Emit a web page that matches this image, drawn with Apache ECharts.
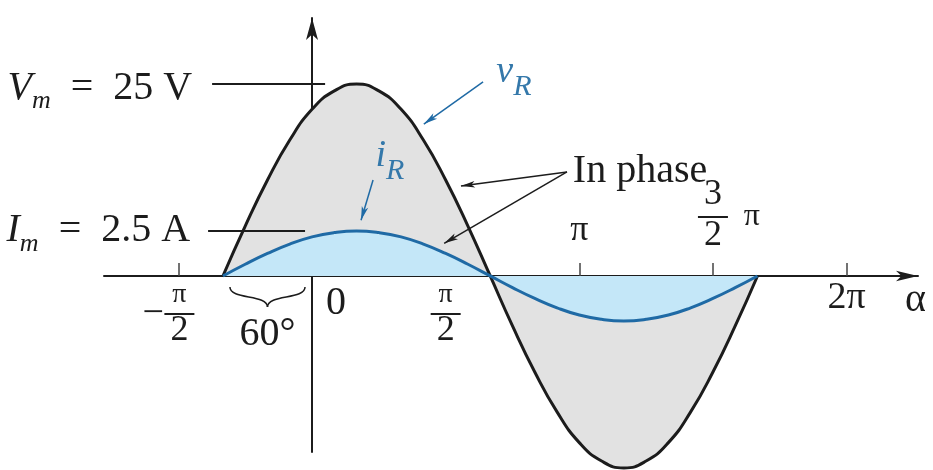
<!DOCTYPE html>
<html>
<head>
<meta charset="utf-8">
<script src="https://cdn.jsdelivr.net/npm/echarts@6/dist/echarts.min.js"></script>
<style>
  html, body { margin: 0; padding: 0; background: #fff; }
  #main { width: 933px; height: 470px; }
</style>
</head>
<body>
<div id="main"></div>
<script>
// angle alpha in degrees, values every 15 deg
var angles = [-60, -45, -30, -15, 0, 15, 30, 45, 60, 75, 90, 105, 120, 135, 150, 165, 180, 195, 210, 225, 240, 255, 270, 285, 300];
var vR = [0, 6.5, 12.5, 17.7, 21.7, 24.1, 25, 24.1, 21.7, 17.7, 12.5, 6.5, 0, -6.5, -12.5, -17.7, -21.7, -24.1, -25, -24.1, -21.7, -17.7, -12.5, -6.5, 0];
var iR = [0, 0.65, 1.25, 1.77, 2.17, 2.41, 2.5, 2.41, 2.17, 1.77, 1.25, 0.65, 0, -0.65, -1.25, -1.77, -2.17, -2.41, -2.5, -2.41, -2.17, -1.77, -1.25, -0.65, 0];
var Vm = 25;
var Im = 2.5;
var phaseShift = 60;
// tick marks and labels (degrees)
var tickMarks = [-90, 90, 180, 270, 360];
var labelsBelow = [-90, 0, 90, 360];
var labelsAbove = [180, 270];

var chart = echarts.init(document.getElementById('main'));
var serif = 'Liberation Serif';
var ink = '#1c1c1c';
var blue = '#1f6aa5';
var blueText = '#3478aa';
// the alpha axis sits on v = 0; grid bottom is 176px below it
var axisLift = -176;

function T(o) {
  o.fontFamily = serif;
  if (!o.color) o.color = ink;
  return o;
}

var belowText = {
  '-90': '{s| }{n|π}{e| }\n{m|−}{b| }{e| }\n{s| }{d|2}{e| }',
  '0': '{z|0}',
  '90': '{n|π}\n{b| }\n{d|2}',
  '360': '{w|2π}'
};
var aboveText = {
  '180': '{p|π}',
  '270': '{g| }{t3|3}{g| }\n{g| }{b2| }{q|π}\n{g| }{t2|2}{g| }'
};

var belowRich = {
  n: T({ fontSize: 28, lineHeight: 34, width: 30, align: 'center' }),
  d: T({ fontSize: 36, lineHeight: 30, width: 30, align: 'center' }),
  b: { width: 30, height: 2, lineHeight: 4, backgroundColor: ink, fontSize: 1 },
  m: T({ fontSize: 38, lineHeight: 4, width: 22, align: 'left' }),
  s: T({ fontSize: 8, lineHeight: 1, width: 22 }),
  e: T({ fontSize: 8, lineHeight: 1, width: 20 }),
  z: T({ fontSize: 40, lineHeight: 50, padding: [0, 0, 0, 48] }),
  w: T({ fontSize: 38, lineHeight: 40 })
};
var aboveRich = {
  p: T({ fontSize: 36, lineHeight: 36 }),
  g: T({ fontSize: 8, lineHeight: 1, width: 32 }),
  t3: T({ fontSize: 36, lineHeight: 33, width: 30, align: 'center' }),
  t2: T({ fontSize: 36, lineHeight: 26, width: 30, align: 'center' }),
  b2: { width: 30, height: 2, lineHeight: 12, backgroundColor: ink, fontSize: 1 },
  q: T({ fontSize: 32, lineHeight: 12, width: 32, align: 'right' })
};
var subRich = {
  i: T({ fontSize: 40, lineHeight: 52, fontStyle: 'italic' }),
  s: T({ fontSize: 26, lineHeight: 52, fontStyle: 'italic', verticalAlign: 'bottom' }),
  t: T({ fontSize: 40, lineHeight: 52 })
};
var blueRich = {
  v: T({ fontSize: 38, lineHeight: 60, fontStyle: 'italic', color: blueText }),
  r: T({ fontSize: 30, lineHeight: 60, fontStyle: 'italic', color: blueText, verticalAlign: 'bottom' })
};

function arrowLine(from, to, color) {
  return [
    { coord: from, symbol: 'none', lineStyle: { color: color, width: 1.5, type: 'solid' }, itemStyle: { color: color }, label: { show: false } },
    { coord: to, symbol: 'arrow', symbolSize: [5, 14], itemStyle: { color: color } }
  ];
}

var option = {
  animation: false,
  backgroundColor: '#fff',
  grid: { left: 104, right: 15, top: 18, bottom: 18, outerBoundsMode: 'none' },
  xAxis: [{
    type: 'value', min: -140.1, max: 408.1, position: 'bottom', offset: axisLift,
    axisLine: { show: true, onZero: false, symbol: ['none', 'arrow'], symbolSize: [8, 22], lineStyle: { color: ink, width: 2 } },
    axisTick: { show: true, inside: true, length: 13, customValues: tickMarks, lineStyle: { color: '#444', width: 1.5 } },
    axisLabel: { show: true, margin: 2, customValues: labelsBelow, fontFamily: serif, color: ink,
      formatter: function (v) { return belowText[String(v)] || ''; }, rich: belowRich },
    splitLine: { show: false },
    name: 'α', nameLocation: 'end', nameGap: -13, nameMoveOverlap: false,
    nameTextStyle: { fontFamily: serif, fontSize: 40, lineHeight: 40, color: ink, verticalAlign: 'top', padding: [4, 0, 0, 0] }
  }, {
    type: 'value', min: -140.1, max: 408.1, position: 'bottom', offset: axisLift,
    axisLine: { show: false, onZero: false },
    axisTick: { show: false },
    axisLabel: { show: true, inside: true, margin: 27, customValues: labelsAbove, fontFamily: serif, color: ink,
      formatter: function (v) { return aboveText[String(v)] || ''; }, rich: aboveRich },
    splitLine: { show: false }
  }],
  yAxis: [{
    type: 'value', min: -22.92, max: 33.59,
    axisLine: { show: true, onZero: true, onZeroAxisIndex: 0, symbol: ['none', 'arrow'], symbolSize: [9, 22], lineStyle: { color: ink, width: 2 } },
    axisTick: { show: false }, axisLabel: { show: false }, splitLine: { show: false }
  }, {
    type: 'value', min: -9.78, max: 14.33, show: false, splitLine: { show: false }
  }],
  series: [{
    type: 'line', name: 'vR', xAxisIndex: 0, yAxisIndex: 0,
    data: angles.map(function (a, k) { return [a, vR[k]]; }),
    smooth: true, symbol: 'none', clip: false, z: 2,
    lineStyle: { color: ink, width: 3 },
    areaStyle: { color: '#e2e2e2', opacity: 1 },
    markLine: {
      silent: true, animation: false, symbol: ['none', 'none'], label: { show: false },
      data: [
        [{ coord: [-67.3, Vm], symbol: 'none', lineStyle: { color: ink, width: 2, type: 'solid' },
           label: { show: true, position: 'start', distance: 20, padding: [9, 0, 0, 0],
             formatter: '{i|V}{s|m}{t|  =  ' + Vm + ' V}', rich: subRich } },
         { coord: [8.8, Vm], symbol: 'none' }],
        arrowLine([115.2, 25.26], [75.3, 19.78], blue),
        arrowLine([171.7, 13.54], [100.3, 11.7], ink)
      ]
    },
    markPoint: {
      silent: true, animation: false, symbol: 'circle', symbolSize: 0, itemStyle: { color: 'transparent' },
      data: [
        { coord: [136, 26.6], label: { show: true, position: 'inside', formatter: '{v|v}{r|R}', rich: blueRich } },
        { coord: [220.9, 13.6], label: { show: true, position: 'inside', formatter: 'In phase',
          fontFamily: serif, fontSize: 40, lineHeight: 40, color: ink } }
      ]
    }
  }, {
    type: 'line', name: 'iR', xAxisIndex: 0, yAxisIndex: 1,
    data: angles.map(function (a, k) { return [a, iR[k]]; }),
    smooth: true, symbol: 'none', clip: false, z: 3,
    lineStyle: { color: blue, width: 3 },
    areaStyle: { color: '#c4e7f8', opacity: 1 },
    markLine: {
      silent: true, animation: false, symbol: ['none', 'none'], label: { show: false },
      data: [
        [{ coord: [-70, Im], symbol: 'none', lineStyle: { color: ink, width: 2, type: 'solid' },
           label: { show: true, position: 'start', distance: 18,
             formatter: '{i|I}{s|m}{t|  =  ' + Im + ' A}', rich: subRich } },
         { coord: [-4.7, Im], symbol: 'none' }],
        arrowLine([41.1, 5.33], [33.0, 3.09], blue),
        arrowLine([171.7, 5.78], [89.0, 1.81], ink)
      ]
    },
    markPoint: {
      silent: true, animation: false, symbol: 'circle', symbolSize: 0, itemStyle: { color: 'transparent' },
      data: [
        { coord: [52.5, 6.66], label: { show: true, position: 'inside', formatter: '{v|i}{r|R}', rich: blueRich } }
      ]
    }
  }]
};
chart.setOption(option);

// brace marking the 60 degree shift, placed through the axes
var pA = chart.convertToPixel({ xAxisIndex: 0, yAxisIndex: 0 }, [-phaseShift, 0]);
var pB = chart.convertToPixel({ xAxisIndex: 0, yAxisIndex: 0 }, [0, 0]);
var x1 = pA[0] + 7, x2 = pB[0] - 7, xm = (x1 + x2) / 2, y0 = pA[1] + 11;
chart.setOption({
  graphic: [
    { type: 'bezierCurve', shape: { x1: x1, y1: y0, cpx1: x1, cpy1: y0 + 13, cpx2: xm, cpy2: y0 + 7, x2: xm, y2: y0 + 20 },
      style: { stroke: ink, lineWidth: 1.5, fill: null } },
    { type: 'bezierCurve', shape: { x1: x2, y1: y0, cpx1: x2, cpy1: y0 + 13, cpx2: xm, cpy2: y0 + 7, x2: xm, y2: y0 + 20 },
      style: { stroke: ink, lineWidth: 1.5, fill: null } },
    { type: 'text', x: xm, y: y0 + 48,
      style: { text: phaseShift + '°', font: '40px "Liberation Serif"', fill: ink, align: 'center', verticalAlign: 'middle' } }
  ]
});
</script>
</body>
</html>
